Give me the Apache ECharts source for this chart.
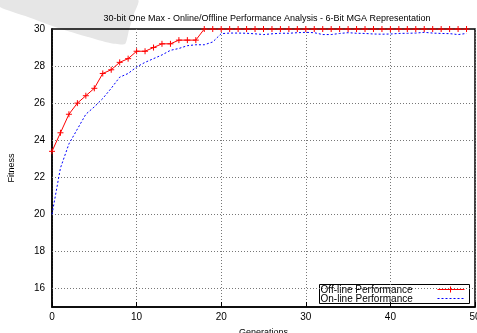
<!DOCTYPE html>
<html><head><meta charset="utf-8">
<script src="https://cdn.jsdelivr.net/npm/echarts@6/dist/echarts.min.js"></script>
<style>html,body{margin:0;padding:0;background:#fff}#c{width:477px;height:333px}</style>
</head><body><div id="c"></div>
<script>
var generations = [];
for (var g = 0; g < 50; g++) generations.push(g);
var offline = [23.4,24.4,25.4,26.0,26.4,26.8,27.6,27.8,28.2,28.4,28.8,28.8,29.0,29.2,29.2,29.4,29.4,29.4,30,30,
  30,30,30,30,30,30,30,30,30,30,30,30,30,30,30,30,30,30,30,30,30,30,30,30,30,30,30,30,30,30];
var online = [20.0,22.5,23.8,24.6,25.4,25.8,26.25,26.8,27.4,27.6,27.95,28.2,28.4,28.6,28.85,28.95,29.1,29.15,29.15,29.3,
  29.75,29.78,29.78,29.77,29.74,29.7,29.74,29.77,29.77,29.8,29.82,29.8,29.7,29.7,29.76,29.8,29.77,29.76,29.73,29.72,
  29.73,29.76,29.77,29.78,29.82,29.78,29.76,29.75,29.7,29.76];
var seriesNames = ['Off-line Performance','On-line Performance'];
var yTicks = [16,18,20,22,24,26,28,30];
var xTicks = [0,10,20,30,40,50];
var titleText = '30-bit One Max - Online/Offline Performance Analysis - 6-Bit MGA Representation';

var chart = echarts.init(document.getElementById('c'), null, {renderer:'canvas'});
var font = 'Liberation Sans, Arial, sans-serif';
var gridLineStyle = {color:'#777',type:[1,2],width:1};
var legendGraphic = {type:'group',left:319,top:284,z:100,children:[
  {type:'rect',shape:{x:0,y:0,width:150,height:19},style:{fill:'#fff',stroke:'#000',lineWidth:1}},
  {type:'text',x:1,y:5.5,style:{text:seriesNames[0],font:'10px '+font,fill:'#000',verticalAlign:'middle'}},
  {type:'text',x:1,y:14.5,style:{text:seriesNames[1],font:'10px '+font,fill:'#000',verticalAlign:'middle'}},
  {type:'line',shape:{x1:118,y1:5,x2:145,y2:5},style:{stroke:'#ff0000',lineWidth:1}},
  {type:'line',shape:{x1:131,y1:2,x2:131,y2:8},style:{stroke:'#ff0000',lineWidth:1}},
  {type:'line',shape:{x1:118,y1:14,x2:145,y2:14},style:{stroke:'#0000ff',lineWidth:1,lineDash:[2,2]}}
]};
chart.setOption({
  backgroundColor:'#fff',
  animation:false,
  title:{text:titleText,left:262,top:9,textAlign:'center',textStyle:{fontFamily:font,fontSize:9,fontWeight:'normal',color:'#000'}},
  graphic:[{type:'polygon',z:-10,silent:true,shape:{points:[[0,0],[138,0],[134,14],[129,30],[125,44],[110,43],[88,37],[58,28],[28,17],[0,7]],smooth:0.2},style:{fill:'#e6e6e6'}},
    legendGraphic],
  grid:{left:52,right:2,top:29,bottom:26,containLabel:false,outerBoundsMode:'none',show:true,borderColor:'#000',borderWidth:1.5,backgroundColor:'transparent'},
  xAxis:{type:'value',min:0,max:50,interval:10,name:'Generations',nameLocation:'middle',nameGap:21,
    nameTextStyle:{fontFamily:font,fontSize:9,color:'#000'},
    axisLine:{show:true,lineStyle:{color:'#000',width:1.5}},
    axisTick:{show:true,inside:true,length:5,lineStyle:{color:'#000'}},
    axisLabel:{fontFamily:font,fontSize:10,color:'#000',margin:5,formatter:function(v){return xTicks.indexOf(v)>=0?String(v):'';}},
    splitLine:{show:true,lineStyle:gridLineStyle}},
  yAxis:{type:'value',min:15,max:30,interval:1,name:'Fitness',nameLocation:'middle',nameGap:36,
    nameTextStyle:{fontFamily:font,fontSize:9,color:'#000'},
    axisLine:{show:true,lineStyle:{color:'#000',width:1.5}},
    axisTick:{show:false},
    axisLabel:{fontFamily:font,fontSize:10,color:'#000',margin:7,formatter:function(v){return yTicks.indexOf(v)>=0?String(v):'';}},
    splitLine:{show:false}},
  series:[
    {name:seriesNames[0],type:'line',data:generations.map(function(g,i){return [g,offline[i]];}),
     lineStyle:{color:'#ff0000',width:1},itemStyle:{color:'#ff0000',borderColor:'#ff0000',borderWidth:1},
     symbol:'path://M0,5L10,5M5,0L5,10',symbolSize:6,showSymbol:true,z:3},
    {name:seriesNames[1],type:'line',data:generations.map(function(g,i){return [g,online[i]];}),
     lineStyle:{color:'#0000ff',width:1,type:[2,2]},itemStyle:{color:'#0000ff'},symbol:'none',z:2,
     markLine:{silent:true,symbol:'none',label:{show:false},lineStyle:gridLineStyle,animation:false,z:1,
       data:yTicks.filter(function(v){return v<30;}).map(function(v){return {yAxis:v};})}}
  ]
});
</script></body></html>
